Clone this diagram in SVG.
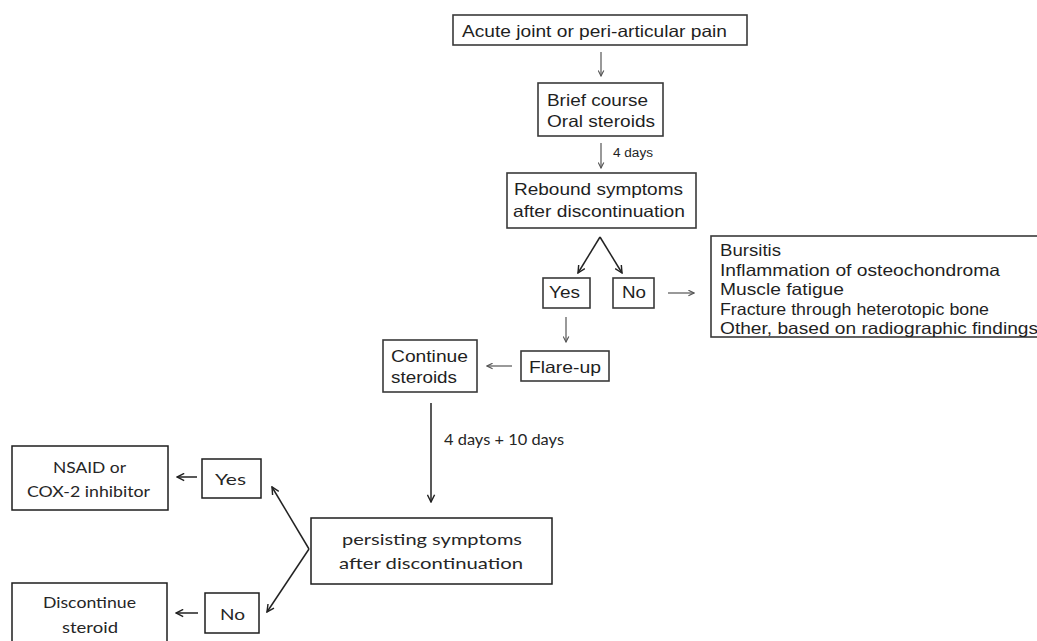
<svg xmlns="http://www.w3.org/2000/svg" width="1037" height="641" viewBox="0 0 1037 641">
  <style>
    .box { fill: #ffffff; stroke: #3a3a3a; stroke-width: 1.6; }
    .box2 { fill: #ffffff; stroke: #1e1e1e; stroke-width: 1.5; }
    .t { font-family: "Liberation Sans", Arial, sans-serif; font-size: 16.5px; fill: #1f1f1f; }
    .c { font-family: Lato, "Open Sans", sans-serif; font-size: 16px; fill: #262626; text-anchor: middle; }
    .thin { stroke: #555555; stroke-width: 1.2; fill: none; marker-end: url(#ah); }
    .dark { stroke: #222222; stroke-width: 1.5; fill: none; marker-end: url(#ah2); }
  </style>
  <defs>
    <marker id="ah" viewBox="0 0 10 10" refX="9" refY="5" markerWidth="7" markerHeight="7" markerUnits="userSpaceOnUse" orient="auto">
      <path d="M1,1 L9,5 L1,9" fill="none" stroke="#555555" stroke-width="1.6"/>
    </marker>
    <marker id="ah2" viewBox="0 0 10 10" refX="9" refY="5" markerWidth="9" markerHeight="9" markerUnits="userSpaceOnUse" orient="auto">
      <path d="M1,1 L9,5 L1,9" fill="none" stroke="#222222" stroke-width="1.6"/>
    </marker>
  </defs>
  <rect width="1037" height="641" fill="#ffffff"/>

  <g id="connectors">
    <line class="thin" x1="601" y1="52" x2="601" y2="76"/>
    <line class="thin" x1="601" y1="143" x2="601" y2="168"/>
    <text class="t" x="613" y="157" style="font-size:12px" textLength="40" lengthAdjust="spacingAndGlyphs">4 days</text>
    <line class="dark" x1="600" y1="237" x2="578" y2="273"/>
    <line class="dark" x1="600" y1="237" x2="622" y2="273"/>
    <line class="thin" x1="668" y1="293" x2="694" y2="293"/>
    <line class="thin" x1="566" y1="317" x2="566" y2="342"/>
    <line class="thin" x1="512" y1="366" x2="487" y2="366"/>
    <line class="dark" x1="431" y1="403" x2="431" y2="502"/>
    <text class="c" x="504" y="445" textLength="120" lengthAdjust="spacingAndGlyphs">4 days + 10 days</text>
    <line class="dark" x1="309" y1="549" x2="272" y2="487"/>
    <line class="dark" x1="309" y1="549" x2="267" y2="612"/>
    <line class="dark" x1="197" y1="477" x2="177" y2="477"/>
    <line class="dark" x1="198" y1="613" x2="176" y2="613"/>
  </g>

  <g id="n-acute">
    <rect class="box" x="453" y="15" width="294" height="30"/>
    <text class="t" x="462" y="36.5" textLength="265" lengthAdjust="spacingAndGlyphs">Acute joint or peri-articular pain</text>
  </g>
  <g id="n-brief">
    <rect class="box" x="538" y="83" width="125" height="53"/>
    <text class="t" x="547" y="106" textLength="101" lengthAdjust="spacingAndGlyphs">Brief course</text>
    <text class="t" x="547" y="126.5" textLength="108" lengthAdjust="spacingAndGlyphs">Oral steroids</text>
  </g>
  <g id="n-rebound">
    <rect class="box" x="507" y="173" width="189" height="55"/>
    <text class="t" x="514" y="195" textLength="169" lengthAdjust="spacingAndGlyphs">Rebound symptoms</text>
    <text class="t" x="513" y="216.5" textLength="172" lengthAdjust="spacingAndGlyphs">after discontinuation</text>
  </g>
  <g id="n-yes1">
    <rect class="box" x="543" y="278" width="47" height="30"/>
    <text class="t" x="549" y="298" textLength="31" lengthAdjust="spacingAndGlyphs">Yes</text>
  </g>
  <g id="n-no1">
    <rect class="box" x="613" y="278" width="41" height="30"/>
    <text class="t" x="622" y="298" textLength="24" lengthAdjust="spacingAndGlyphs">No</text>
  </g>
  <g id="n-causes">
    <rect class="box" x="711" y="236" width="340" height="101"/>
    <text class="t" x="720" y="256" textLength="61" lengthAdjust="spacingAndGlyphs">Bursitis</text>
    <text class="t" x="720" y="275.5" textLength="280" lengthAdjust="spacingAndGlyphs">Inflammation of osteochondroma</text>
    <text class="t" x="720" y="295" textLength="124" lengthAdjust="spacingAndGlyphs">Muscle fatigue</text>
    <text class="t" x="720" y="314.5" textLength="269" lengthAdjust="spacingAndGlyphs">Fracture through heterotopic bone</text>
    <text class="t" x="720" y="334" textLength="318" lengthAdjust="spacingAndGlyphs">Other, based on radiographic findings</text>
  </g>
  <g id="n-flare">
    <rect class="box" x="521" y="351" width="88" height="30"/>
    <text class="t" x="529" y="373" textLength="72" lengthAdjust="spacingAndGlyphs">Flare-up</text>
  </g>
  <g id="n-continue">
    <rect class="box" x="383" y="340" width="94" height="52"/>
    <text class="t" x="391" y="362" textLength="77" lengthAdjust="spacingAndGlyphs">Continue</text>
    <text class="t" x="391" y="383" textLength="66" lengthAdjust="spacingAndGlyphs">steroids</text>
  </g>
  <g id="n-persisting">
    <rect class="box2" x="311" y="518" width="241" height="66"/>
    <text class="c" x="432" y="545" textLength="180" lengthAdjust="spacingAndGlyphs">persisting symptoms</text>
    <text class="c" x="431" y="568.5" textLength="184" lengthAdjust="spacingAndGlyphs">after discontinuation</text>
  </g>
  <g id="n-yes2">
    <rect class="box2" x="202" y="459" width="59" height="39"/>
    <text class="c" x="230.5" y="484.5" textLength="31" lengthAdjust="spacingAndGlyphs">Yes</text>
  </g>
  <g id="n-no2">
    <rect class="box2" x="205" y="593" width="54" height="40"/>
    <text class="c" x="232.5" y="620" textLength="25" lengthAdjust="spacingAndGlyphs">No</text>
  </g>
  <g id="n-nsaid">
    <rect class="box2" x="12" y="446" width="156" height="64"/>
    <text class="c" x="89.5" y="472.5" textLength="73" lengthAdjust="spacingAndGlyphs">NSAID or</text>
    <text class="c" x="88.5" y="497" textLength="123" lengthAdjust="spacingAndGlyphs">COX-2 inhibitor</text>
  </g>
  <g id="n-discontinue">
    <rect class="box2" x="12" y="583" width="155" height="70"/>
    <text class="c" x="89.5" y="608" textLength="93" lengthAdjust="spacingAndGlyphs">Discontinue</text>
    <text class="c" x="90" y="632.5" textLength="56" lengthAdjust="spacingAndGlyphs">steroid</text>
  </g>
</svg>
